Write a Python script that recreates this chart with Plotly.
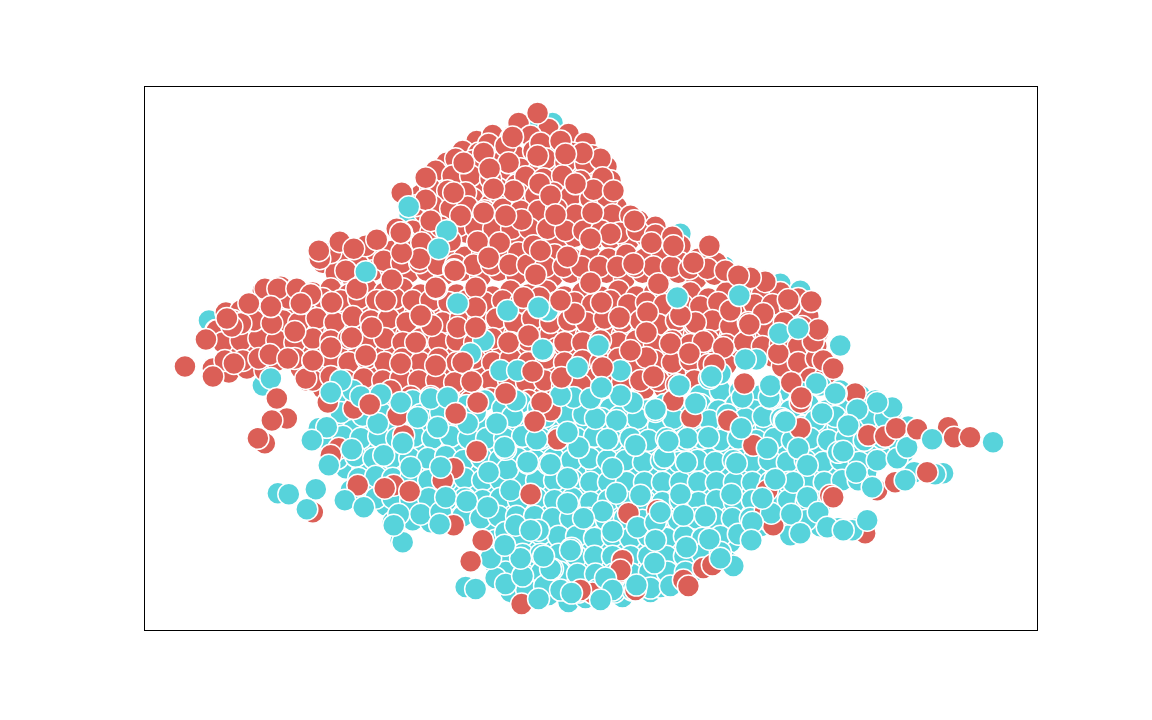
import plotly.graph_objects as go

RED = "#DB5F57"
CYAN = "#57D3DB"

cyan_back = [(208,320),(215,330),(327,328),(528,127),(552,122),(517,160),(570,168),(610,202),(409,215),(500,150),
 (680,233),(724,266),(705,258),(333,383),(262,385),(320,340),(485,340),(460,300),(445,250),(540,330),(780,283),(800,290)]

red_back = [(518,122),(548,128),(568,133),(585,142),(476,140),(492,134),(510,138),(530,135),
 (462,150),(478,152),(497,150),(515,155),(533,150),(552,148),(572,152),(592,155),(606,166),
 (446,162),(462,168),(482,166),(500,170),(520,168),(538,170),(556,165),(575,170),(593,172),(610,180),
 (428,178),(444,180),(462,184),(480,182),(498,188),(516,184),(534,186),(552,182),(570,186),(588,190),(612,192),
 (420,194),(436,196),(454,200),(472,198),(490,204),(508,200),(526,202),(544,198),(562,204),(580,206),(600,204),(616,206),
 (424,212),(440,214),(458,216),(476,214),(494,220),(512,216),(530,220),(548,216),(566,222),(584,220),(602,222),(620,222),(638,220),(655,226),
 (396,228),(412,230),(430,232),(448,236),(466,232),(484,238),(502,234),(520,238),(538,234),(556,240),(574,236),(592,240),(610,238),(628,240),(646,236),(664,240),(680,245),
 (340,244),(352,250),(322,262),(340,260),(358,264),(376,252),(392,250),(410,248),(428,254),(446,250),(464,256),(482,252),(500,256),(518,252),(536,258),(554,254),(572,258),(590,254),(608,258),(626,254),(644,258),(662,254),(680,262),(698,258),(716,262),
 (335,272),(352,278),(372,270),(390,268),(408,272),(426,270),(444,274),(462,270),(480,276),(498,270),(516,274),(534,270),(552,276),(570,272),(588,276),(606,272),(624,278),(642,272),(660,276),(678,272),(696,278),(714,274),(732,280),(748,276),(764,280),
 (262,290),(280,286),(296,290),(312,292),(330,288),(348,294),(366,288),(384,292),(402,288),(420,294),(438,290),(456,294),(474,290),(492,296),(510,290),(528,294),(546,290),(564,296),(582,292),(600,296),(618,290),(636,296),(654,292),(672,298),(690,292),(708,298),(726,292),(744,298),(762,294),(780,292),(798,298),
 (225,312),(240,310),(256,308),(272,312),(290,308),(306,312),(324,306),(342,312),(360,306),(378,312),(396,308),(414,314),(432,308),(450,314),(468,308),(486,314),(504,308),(522,312),(540,308),(558,314),(576,310),(594,314),(612,308),(630,314),(648,310),(666,316),(684,310),(702,314),(720,310),(738,316),(756,312),(774,316),(792,312),(808,316),
 (216,330),(232,332),(248,328),(264,332),(282,328),(298,334),(316,328),(334,332),(352,326),(370,332),(388,328),(406,334),(424,328),(442,334),(460,328),(478,332),(496,328),(514,334),(532,328),(550,334),(568,330),(586,334),(604,328),(622,334),(640,330),(658,336),(676,330),(694,334),(712,330),(730,336),(748,332),(766,336),(784,332),(802,336),(818,332),
 (232,348),(250,350),(268,346),(286,352),(304,346),(322,352),(340,346),(358,352),(376,346),(394,352),(412,348),(430,354),(448,348),(466,352),(484,348),(502,354),(520,348),(538,352),(556,348),(574,354),(592,350),(610,354),(628,348),(646,354),(664,350),(682,354),(700,350),(718,356),(736,352),(772,356),(790,352),(808,356),
 (212,368),(228,372),(246,368),(264,370),(300,368),(318,372),(336,366),(354,372),(372,366),(390,372),(408,368),(426,372),(444,368),(462,374),(480,368),(498,372),(516,368),(534,374),(552,368),(570,372),(588,370),(606,374),(624,368),(642,374),(660,370),(678,374),(696,370),(714,376),(790,372),(806,368),(824,366),
 (306,380),(322,388),(372,386),(392,390),(410,386),(428,392),(446,388),(464,392),(482,386),(500,392),(518,386),(536,392),(554,388),(644,388),(664,388)]

red_fill2 = [(488,143),(505,145),(540,142),(560,140),(455,158),(472,160),(508,162),(545,158),(565,162),(585,163),(600,158),
 (435,170),(452,175),(470,175),(490,178),(525,176),(543,178),(562,175),(580,180),(600,185),
 (430,188),(447,190),(465,192),(500,195),(518,193),(535,195),(553,192),(570,196),(590,198),(607,197),
 (415,205),(432,205),(450,208),(467,206),(484,210),(502,208),(520,210),(538,210),(556,208),(575,214),(595,214),(612,214),(630,215),
 (405,240),(421,242),(440,226),(458,225),(475,227),(493,228),(511,228),(529,228),(547,228),(565,230),(583,230),(601,230),(619,232),(637,230),(655,234),(672,236),
 (365,245),(330,252),(345,270),(383,260),(401,262),(419,262),(437,264),(455,264),(473,264),(491,264),(509,264),(527,264),(545,266),(563,266),(581,266),(599,266),(617,266),(635,266),(653,266),(671,266),(689,268),(707,268),(725,270),
 (270,298),(288,298),(306,300),(322,298),(340,300),(358,298),(376,300),(394,298),(412,300),(430,300),(448,302),(466,300),(484,302),(502,300),(520,302),(556,302),(574,302),(592,304),(610,300),(628,304),(646,302),(664,304),(682,304),(700,306),(718,302),(736,306),(754,304),(772,304),(790,306),
 (232,320),(248,318),(264,320),(282,320),(298,322),(316,318),(334,322),(352,316),(370,320),(388,318),(406,322),(424,318),(442,322),(460,318),(478,320),(496,318),(514,322),(532,318),(550,322),(568,320),(586,322),(604,318),(622,322),(640,320),(658,324),(676,320),(694,324),(712,320),(730,326),(748,322),(766,326),(784,322),(802,326),
 (222,342),(240,340),(258,338),(276,340),(294,342),(312,338),(330,340),(348,338),(366,342),(384,338),(402,342),(420,338),(438,342),(456,340),(474,342),(492,338),(510,342),(528,340),(564,342),(582,342),(618,342),(636,340),(654,344),(672,340),(690,344),(708,340),(726,344),(744,342),(762,346),(780,344),(798,346),(816,346),
 (224,360),(242,360),(258,358),(276,360),(294,358),(312,360),(330,358),(348,362),(366,358),(384,362),(402,358),(420,362),(438,358),(456,362),(474,358),(492,362),(510,358),(528,362),(546,358),(564,362),(582,360),(600,362),(618,358),(636,362),(654,360),(672,362),(690,360),(708,364),(726,364),(782,366),(798,362),(816,358),
 (312,380),(330,376),(345,380),(363,378),(382,380),(400,378),(418,380),(436,380),(454,382),(472,382),(490,380),(508,380),(526,382),(544,380),(562,386),(580,384),(622,382),(640,380),(658,380),(676,384),(694,380),(810,378),(825,376),
 (410,396),(430,396),(450,400),(470,400),(490,398),(510,398),(528,400)]

cyan_fill = [(700,395),(720,390),(740,390),(760,395),(780,390),(800,392),(820,385),(840,390),(860,395),(875,400),
 (330,398),(345,392),(355,405),(375,400),(395,405),(412,400),(430,405),(448,400),(466,405),(484,400),(502,408),(520,402),(538,408),(556,402),(574,408),(592,402),(610,408),(628,404),(646,410),(664,404),(682,410),(700,404),(718,410),(736,404),(754,410),(772,404),(790,410),(808,404),(826,410),(844,404),(862,408),(878,404),(892,410),
 (318,428),(335,425),(352,430),(370,425),(388,428),(406,424),(424,430),(442,424),(460,430),(478,424),(496,430),(514,424),(532,430),(550,424),(568,430),(586,424),(604,430),(622,426),(640,432),(658,426),(676,432),(694,426),(712,432),(730,426),(748,432),(766,426),(784,432),(802,426),(820,432),(838,426),(856,430),(874,426),(892,430),(908,426),
 (330,448),(348,444),(366,450),(384,444),(402,450),(420,444),(438,450),(456,444),(474,450),(492,444),(510,450),(528,444),(546,450),(564,444),(582,450),(600,446),(618,452),(636,446),(654,452),(672,446),(690,452),(708,446),(726,452),(744,446),(762,452),(780,446),(798,452),(816,446),(834,452),(852,446),(870,450),(888,448),(904,452),
 (328,465),(345,468),(362,470),(380,464),(398,470),(416,466),(434,472),(452,466),(470,472),(488,466),(506,472),(524,466),(542,472),(560,466),(578,472),(596,468),(614,474),(632,468),(650,474),(668,468),(686,474),(704,468),(722,474),(740,468),(758,474),(776,468),(794,474),(812,468),(830,474),(848,468),(866,472),
 (350,490),(365,485),(382,490),(400,486),(418,492),(436,486),(454,492),(472,486),(490,492),(508,486),(526,492),(544,486),(562,492),(580,488),(598,494),(616,488),(634,494),(652,488),(670,494),(688,488),(706,494),(724,488),(742,494),(760,488),(778,494),(796,488),(814,494),(830,488),
 (385,505),(400,500),(418,508),(436,504),(454,510),(472,504),(490,510),(508,504),(526,510),(544,504),(562,510),(580,506),(598,512),(616,506),(634,512),(652,506),(670,512),(688,506),(706,512),(724,506),(742,512),(760,506),(778,512),(796,506),(814,512),
 (392,522),(412,520),(430,522),(450,520),(488,525),(506,522),(524,528),(542,522),(560,528),(578,524),(596,530),(614,524),(632,530),(650,524),(668,530),(686,524),(704,530),(722,524),(740,528),(760,526),(780,524),(800,530),(820,526),(838,528),(857,528),
 (400,540),(495,540),(513,542),(531,548),(549,542),(567,548),(585,544),(603,550),(621,544),(639,550),(657,544),(675,550),(693,544),(711,548),(730,542),(748,538),
 (495,565),(513,560),(531,566),(549,560),(567,566),(585,562),(603,568),(621,562),(639,568),(657,562),(675,566),(693,562),(712,562),(728,562),
 (498,580),(516,578),(534,584),(552,578),(570,584),(588,580),(606,586),(624,580),(642,586),(660,580),(678,578),(692,572),
 (530,598),(548,595),(568,602),(585,598),(602,597),(622,597),(650,592),(660,587)]

cyan_fill2 = [(340,412),(362,415),(380,412),(400,414),(420,414),(440,412),(475,412),(512,416),(545,416),(565,415),(583,414),(601,418),(619,416),(637,418),(673,418),(709,420),(727,414),(745,418),(763,416),(781,418),(815,420),(835,416),(853,420),(870,416),(885,418),
 (325,438),(342,436),(360,438),(378,436),(396,438),(414,436),(432,438),(450,436),(468,438),(486,438),(504,438),(522,436),(540,438),(558,436),(576,438),(594,436),(612,440),(630,438),(648,440),(666,438),(684,440),(702,438),(720,440),(738,438),(756,440),(774,438),(792,440),(810,438),(828,440),(846,438),(864,440),(882,438),(898,442),
 (337,458),(355,456),(373,458),(391,458),(409,458),(427,458),(445,456),(463,460),(481,458),(499,460),(517,458),(535,460),(553,458),(571,460),(589,458),(607,460),(625,460),(643,462),(661,460),(679,462),(697,460),(715,462),(733,460),(751,462),(769,460),(787,462),(805,460),(823,462),(841,460),(859,462),(877,460),
 (358,478),(375,476),(392,478),(410,478),(428,480),(446,480),(464,478),(482,480),(500,480),(518,480),(536,480),(554,480),(572,480),(590,482),(608,482),(626,482),(644,482),(662,482),(680,482),(698,482),(716,482),(734,482),(752,482),(770,482),(788,482),(806,482),(824,482),(842,480),(858,480),
 (375,498),(392,498),(410,500),(428,498),(446,500),(464,498),(482,500),(500,498),(518,500),(536,498),(554,500),(572,498),(590,502),(608,500),(626,502),(644,500),(662,502),(680,500),(698,502),(716,500),(734,502),(752,500),(770,502),(788,500),(806,502),(822,502),
 (398,514),(420,514),(440,512),(462,516),(480,518),(498,516),(516,516),(534,516),(552,518),(570,518),(588,518),(606,520),(624,518),(642,520),(660,518),(678,520),(696,518),(714,518),(732,518),(750,518),(768,520),(786,518),(806,520),
 (505,532),(522,536),(540,534),(558,536),(576,536),(594,538),(612,536),(630,538),(648,536),(666,538),(684,536),(702,538),(720,536),(738,534),(790,535),
 (504,552),(522,554),(540,554),(558,554),(576,556),(594,556),(612,556),(630,556),(648,556),(666,556),(684,556),(702,554),(720,552),
 (505,572),(523,574),(541,572),(559,572),(577,574),(595,574),(613,574),(631,574),(649,572),(667,572),(685,572),
 (510,592),(526,590),(544,586),(560,590),(578,592),(596,590),(614,592),(632,590),(650,588),(670,586)]

red_under = [(453,468),(338,448),(330,455),(357,485),(393,485),(403,435),(455,413),(390,390),(397,415),(312,512),(353,408),(327,402),(442,480),(453,525),(305,378),
 (691,417),(728,420),(800,428),(800,402),(673,400),(753,445),(557,439),(550,410),(628,513),(622,560),(619,572),(592,593),(683,580),(703,568),(712,565),(773,525),(767,490),(657,510),
 (855,393),(877,490),(895,482),(865,533),(948,427),(521,604),(580,590),(635,590),(688,586),(765,510),(830,495),(620,570)]

cyan_top = [(270,378),(352,390),(400,402),(417,417),(326,427),(377,423),(402,443),(437,427),(467,423),(496,423),(351,449),(383,455),(410,467),(440,467),(311,440),(328,465),
 (277,493),(288,494),(315,489),(306,509),(344,500),(363,507),(445,497),(466,501),(487,507),(439,524),(402,542),(393,525),(515,525),(538,530),(507,469),(488,472),(527,463),(505,449),(548,464),
 (595,418),(616,420),(655,411),(578,447),(607,439),(635,445),(664,457),(687,438),(708,437),(741,428),(784,420),(822,413),(767,448),(798,448),(550,464),(567,478),(612,468),(686,462),(736,463),(807,465),(838,452),
 (616,493),(567,503),(602,511),(583,518),(680,494),(731,494),(793,482),(775,479),(807,497),(683,515),(705,516),(771,513),(791,514),(818,512),(800,533),(827,527),(752,522),(751,540),(709,539),(686,547),(637,527),(655,522),(612,531),(571,548),(552,569),(654,563),(605,578),(636,585),(612,590),(571,593),(733,566),(720,558),
 (914,472),(905,480),(872,487),(897,458),(907,447),(856,472),(843,451),(892,407),(877,402),(857,409),(836,393),(848,425),(785,421),(770,398),(852,530),(843,530),(867,520),(943,473),(935,474),
 (632,402),(655,409),(695,403),(742,397),(769,397),(770,385),(816,383),(835,393),(679,385),(709,378),
 (465,587),(475,589),(495,578),(505,584),(522,576),(550,569),(538,599),(490,558),(520,558),(543,556),(530,530),(504,447),(527,462),(536,439),(668,441),(504,545),(570,550),(600,600),(655,540),(660,512),(640,495),(510,490),
 (567,432),(762,498),(340,380),(330,392),(360,396),(380,394),(430,398),(447,397),(507,310),(547,310),(483,340),(470,353),(543,350),(620,370),(720,373),(500,370),(517,370),(573,397),(590,398),(515,400),(560,395),(620,395)]

red_top = [(184,366),(205,339),(212,376),(233,363),(253,320),(269,354),(271,323),(240,323),(231,326),(226,318),(264,288),(277,288),(296,288),(310,294),(300,303),(270,306),(248,303),(294,331),(287,358),(312,360),(276,398),(286,418),(271,420),(264,443),(257,438),
 (331,302),(356,288),(319,258),(339,241),(318,250),(353,248),(376,239),(401,232),(419,258),(401,252),(391,279),(436,288),(453,269),(371,327),(351,337),(330,347),(400,363),(415,342),(431,325),(457,327),(369,404),
 (537,112),(512,136),(537,155),(582,152),(565,153),(483,152),(463,162),(489,168),(602,177),(593,189),(575,183),(613,190),(539,183),(550,195),(513,190),(493,188),(453,192),(425,177),(401,192),(425,199),(460,215),(483,212),(430,220),(400,232),(477,241),(499,242),(521,219),(555,214),(592,212),(634,220),(610,233),(533,245),(567,256),(651,242),(633,263),(673,245),(535,274),(590,282),(658,283),(488,257),(454,270),(435,287),(475,287),
 (709,245),(693,262),(765,281),(750,277),(738,275),(788,299),(811,301),(763,313),(749,324),(695,322),(647,312),(646,332),(670,343),(703,341),(689,353),(646,357),(630,350),(723,347),(714,364),(778,353),(813,341),(818,329),(823,360),(833,368),(744,383),(791,382),(801,397),(653,376),
 (475,307),(475,327),(539,297),(523,297),(601,302),(574,313),(619,317),(508,342),(528,335),(462,362),(471,381),(477,402),(505,393),(532,371),(561,377),(541,402),(534,421),(602,367),(455,413),(476,451),
 (384,488),(409,491),(530,494),(470,561),(482,540),(385,300),(365,355),(435,365),(600,340),(560,300),(420,315),(540,250),(680,315),(730,310),(590,238),(505,215),(450,240),
 (868,435),(885,436),(896,428),(917,429),(954,437),(970,437),(927,472),(833,497)]

cyan_over = [(408,206),(446,230),(438,248),(365,271),(457,303),(538,307),(677,297),(739,295),(542,349),(598,345),(601,387),(577,367),(679,385),(711,376),(779,333),(798,328),(840,345),(756,359),(745,359),(932,439),(993,442)]

layers = [(cyan_back, CYAN), (red_back, RED), (red_fill2, RED), (cyan_fill, CYAN), (cyan_fill2, CYAN),
          (red_under, RED), (cyan_top, CYAN), (red_top, RED), (cyan_over, CYAN)]

fig = go.Figure()
for pts, color in layers:
    fig.add_trace(go.Scatter(
        x=[p[0] for p in pts], y=[p[1] for p in pts], mode="markers", showlegend=False,
        marker=dict(size=22, color=color, line=dict(color="white", width=1.5)), cliponaxis=False))

axis = dict(showgrid=False, zeroline=False, showticklabels=False, ticks="", showline=True,
            linecolor="black", linewidth=1, mirror=True)
fig.update_layout(width=1152, height=720, plot_bgcolor="white", paper_bgcolor="white",
                  margin=dict(l=145, r=115, t=87, b=90),
                  xaxis=dict(range=[144, 1037], **axis),
                  yaxis=dict(range=[630, 86], **axis))
fig.write_html("out.html", config={"displayModeBar": False}, post_script="document.body.style.margin='0';")
